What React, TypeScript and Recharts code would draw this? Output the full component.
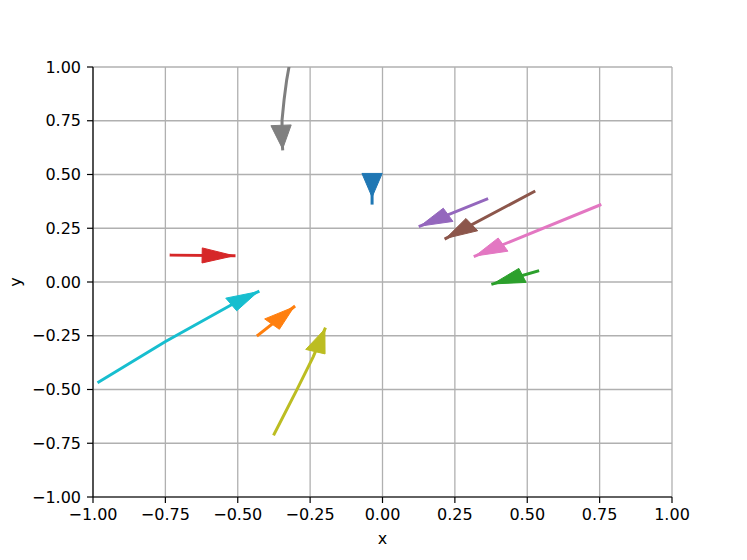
import React from "react";
import { LineChart, Line, XAxis, YAxis, CartesianGrid } from "recharts";

// axis ticks
const TICKS = [-1, -0.75, -0.5, -0.25, 0, 0.25, 0.5, 0.75, 1];

// streamline pieces (x, y in data units), arrow tip at the given index
const blueX = [-0.036, -0.036, -0.036];
const blueY = [0.488, 0.395, 0.367];
const orangeX = [-0.43, -0.306];
const orangeY = [-0.247, -0.116];
const greenX = [0.536, 0.381];
const greenY = [0.051, -0.009];
const redX = [-0.73, -0.513];
const redY = [0.125, 0.122];
const purpleX = [0.36, 0.13];
const purpleY = [0.385, 0.26];
const brownX = [0.523, 0.219];
const brownY = [0.42, 0.203];
const pinkX = [0.751, 0.32];
const pinkY = [0.358, 0.121];
const grayX = [-0.323, -0.331, -0.34, -0.347, -0.347, -0.345];
const grayY = [1.0, 0.94, 0.847, 0.753, 0.66, 0.619];
const oliveX = [-0.374, -0.296, -0.239, -0.199];
const oliveY = [-0.707, -0.502, -0.347, -0.219];
const cyanX = [-0.98, -0.751, -0.503, -0.43];
const cyanY = [-0.465, -0.278, -0.092, -0.045];

const W = 747;
const H = 560;
const M = { top: 67, right: 75, left: 0, bottom: 0 };
const Y_AXIS_W = 93;
const X_AXIS_H = 63;
const PLOT_W = W - M.left - M.right - Y_AXIS_W;
const PLOT_H = H - M.top - M.bottom - X_AXIS_H;
const SX = PLOT_W / 2; // px per data unit
const SY = PLOT_H / 2;

// arrowhead size in data units (like plt.arrow)
const HEAD_LEN = 0.11;
const HEAD_HALF = 0.035;

const series = [
  { name: "C0", color: "#1f77b4", xs: blueX, ys: blueY, at: 1 },
  { name: "C1", color: "#ff7f0e", xs: orangeX, ys: orangeY, at: 1 },
  { name: "C2", color: "#2ca02c", xs: greenX, ys: greenY, at: 1 },
  { name: "C3", color: "#d62728", xs: redX, ys: redY, at: 1 },
  { name: "C4", color: "#9467bd", xs: purpleX, ys: purpleY, at: 1 },
  { name: "C5", color: "#8c564b", xs: brownX, ys: brownY, at: 1 },
  { name: "C6", color: "#e377c2", xs: pinkX, ys: pinkY, at: 1 },
  { name: "C7", color: "#7f7f7f", xs: grayX, ys: grayY, at: 5 },
  { name: "C8", color: "#bcbd22", xs: oliveX, ys: oliveY, at: 3 },
  { name: "C9", color: "#17becf", xs: cyanX, ys: cyanY, at: 3 },
];

const fmt = (v: number) => v.toFixed(2).replace("-", "\u2212");

function arrowDot(color: string, xs: number[], ys: number[], at: number) {
  return (props: any) => {
    const { cx, cy, index } = props;
    if (index !== at || index === 0 || cx == null || cy == null) {
      return <g key={`d-${index}`} />;
    }
    let dx = xs[at] - xs[at - 1];
    let dy = ys[at] - ys[at - 1];
    const len = Math.hypot(dx, dy) || 1;
    dx /= len;
    dy /= len;
    const bx = -dx * HEAD_LEN;
    const by = -dy * HEAD_LEN;
    const nx = -dy * HEAD_HALF;
    const ny = dx * HEAD_HALF;
    const pts = [
      [0, 0],
      [bx + nx, by + ny],
      [bx - nx, by - ny],
    ]
      .map(([u, v]) => `${cx + u * SX},${cy - v * SY}`)
      .join(" ");
    return (
      <polygon
        key={`d-${index}`}
        points={pts}
        fill={color}
        stroke={color}
        strokeWidth={1}
        strokeLinejoin="miter"
      />
    );
  };
}

const tickStyle = { fill: "#000", fontSize: 16, fontFamily: "DejaVu Sans" };

export default function App() {
  return (
    <div
      style={{
        position: "absolute",
        left: 0,
        top: 0,
        width: W,
        height: H,
        background: "#fff",
        fontFamily: "DejaVu Sans",
      }}
    >
      <LineChart width={W} height={H} margin={M}>
        <CartesianGrid stroke="#b0b0b0" strokeWidth={1.3} />
        <XAxis
          type="number"
          dataKey="x"
          domain={[-1, 1]}
          ticks={TICKS}
          interval={0}
          allowDataOverflow
          height={X_AXIS_H}
          tickSize={6}
          tickMargin={6}
          tick={tickStyle}
          tickFormatter={fmt}
          stroke="#000"
          axisLine={{ stroke: "#000", strokeWidth: 1.2 }}
          tickLine={{ stroke: "#000", strokeWidth: 1.2 }}
          label={(p: any) => {
            const vb = p.viewBox || { x: 93, y: 497, width: 579 };
            return (
              <text
                x={vb.x + vb.width / 2}
                y={vb.y + 47}
                textAnchor="middle"
                fontSize={16}
                fontFamily="DejaVu Sans"
                fill="#000"
              >
                x
              </text>
            );
          }}
        />
        <YAxis
          type="number"
          dataKey="y"
          domain={[-1, 1]}
          ticks={TICKS}
          interval={0}
          allowDataOverflow
          width={Y_AXIS_W}
          tickSize={6}
          tickMargin={6}
          tick={tickStyle}
          tickFormatter={fmt}
          stroke="#000"
          axisLine={{ stroke: "#000", strokeWidth: 1.2 }}
          tickLine={{ stroke: "#000", strokeWidth: 1.2 }}
          label={(p: any) => {
            const vb = p.viewBox || { x: 0, y: 67, height: 430 };
            const lx = vb.x + 21;
            const ly = vb.y + vb.height / 2;
            return (
              <text
                x={lx}
                y={ly}
                transform={`rotate(-90, ${lx}, ${ly})`}
                textAnchor="middle"
                fontSize={16}
                fontFamily="DejaVu Sans"
                fill="#000"
              >
                y
              </text>
            );
          }}
        />
        <XAxis
          xAxisId="top"
          orientation="top"
          type="number"
          domain={[-1, 1]}
          height={0}
          tick={false}
          tickLine={false}
          axisLine={{ stroke: "#000", strokeWidth: 1.2 }}
        />
        <YAxis
          yAxisId="right"
          orientation="right"
          type="number"
          domain={[-1, 1]}
          width={0}
          tick={false}
          tickLine={false}
          axisLine={{ stroke: "#000", strokeWidth: 1.2 }}
        />
        {series.map((s) => (
          <Line
            key={s.name}
            name={s.name}
            data={s.xs.map((x, i) => ({ x, y: s.ys[i] }))}
            dataKey="y"
            type="linear"
            stroke={s.color}
            strokeWidth={3}
            strokeLinecap="square"
            dot={arrowDot(s.color, s.xs, s.ys, s.at)}
            activeDot={false}
            isAnimationActive={false}
          />
        ))}
      </LineChart>
    </div>
  );
}
